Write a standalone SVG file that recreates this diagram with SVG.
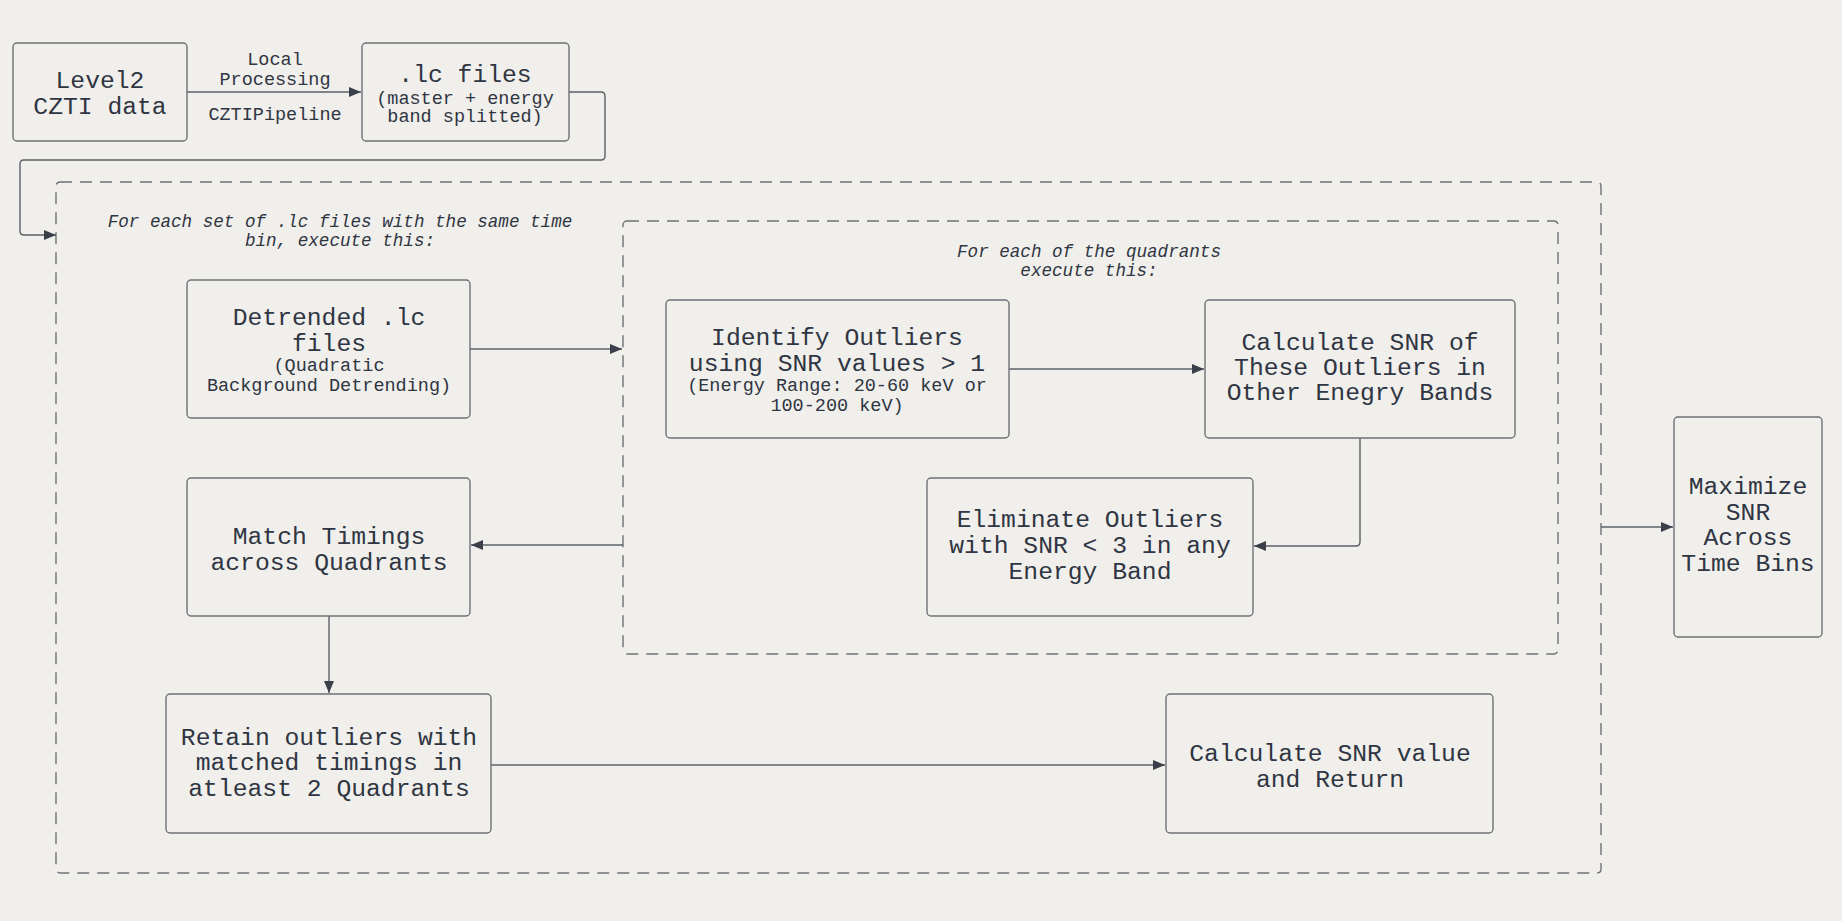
<svg xmlns="http://www.w3.org/2000/svg" width="1842" height="921" viewBox="0 0 1842 921">
<defs>
<marker id="ah" viewBox="0 0 12 12" refX="12" refY="6" markerWidth="12" markerHeight="12" markerUnits="userSpaceOnUse" orient="auto">
<path d="M0,1 L12,6 L0,11 Z" fill="#3a3f4a"/>
</marker>
<style>
.bg{fill:#f0efeb}
.box{fill:#f0efeb;stroke:#6e7178;stroke-width:1.4}
.grp{fill:none;stroke:#6e7178;stroke-width:1.4;stroke-dasharray:12 8}
.edge{fill:none;stroke:#5d6068;stroke-width:1.4;marker-end:url(#ah)}
text{font-family:"Liberation Mono","DejaVu Sans Mono",monospace;fill:#2f3542;text-anchor:middle}
.t{font-size:24.7px}
.s{font-size:18.5px}
.i{font-size:17.6px;font-style:italic}
</style>
</defs>
<rect class="bg" x="0" y="0" width="1842" height="921"/>

<g id="group-outer">
<rect class="grp" x="56" y="182" width="1545" height="691" rx="4"/>
<text class="i" x="340" y="227">For each set of .lc files with the same time</text>
<text class="i" x="340" y="246">bin, execute this:</text>
</g>
<g id="group-inner">
<rect class="grp" x="623" y="221" width="935" height="433" rx="4"/>
<text class="i" x="1089" y="257">For each of the quadrants</text>
<text class="i" x="1089" y="276">execute this:</text>
</g>

<g id="connectors">
<path class="edge" d="M187,92 L361,92"/>
<path class="edge" d="M569,92 L601,92 Q605,92 605,96 L605,156 Q605,160 601,160 L24,160 Q20,160 20,164 L20,231 Q20,235 24,235 L56,235"/>
<path class="edge" d="M470,349 L622,349"/>
<path class="edge" d="M1009,369 L1204,369"/>
<path class="edge" d="M1360,438 L1360,542 Q1360,546 1356,546 L1254,546"/>
<path class="edge" d="M623,545 L471,545"/>
<path class="edge" d="M329,616 L329,693"/>
<path class="edge" d="M491,765 L1165,765"/>
<path class="edge" d="M1601,527 L1673,527"/>
<text class="s" x="275" y="65">Local</text>
<text class="s" x="275" y="85">Processing</text>
<text class="s" x="275" y="120">CZTIPipeline</text>
</g>

<g id="node-level2">
<rect class="box" x="13" y="43" width="174" height="98" rx="4"/>
<text class="t" x="100" y="88">Level2</text>
<text class="t" x="100" y="114">CZTI data</text>
</g>
<g id="node-lcfiles">
<rect class="box" x="362" y="43" width="207" height="98" rx="4"/>
<text class="t" x="465" y="82">.lc files</text>
<text class="s" x="465" y="103.5">(master + energy</text>
<text class="s" x="465" y="122">band splitted)</text>
</g>
<g id="node-detrended">
<rect class="box" x="187" y="280" width="283" height="138" rx="4"/>
<text class="t" x="329" y="325">Detrended .lc</text>
<text class="t" x="329" y="351">files</text>
<text class="s" x="329" y="371">(Quadratic</text>
<text class="s" x="329" y="391">Background Detrending)</text>
</g>
<g id="node-identify">
<rect class="box" x="666" y="300" width="343" height="138" rx="4"/>
<text class="t" x="837" y="345">Identify Outliers</text>
<text class="t" x="837" y="371">using SNR values &gt; 1</text>
<text class="s" x="837" y="391">(Energy Range: 20-60 keV or</text>
<text class="s" x="837" y="411">100-200 keV)</text>
</g>
<g id="node-calcsnr">
<rect class="box" x="1205" y="300" width="310" height="138" rx="4"/>
<text class="t" x="1360" y="350">Calculate SNR of</text>
<text class="t" x="1360" y="375">These Outliers in</text>
<text class="t" x="1360" y="400">Other Enegry Bands</text>
</g>
<g id="node-eliminate">
<rect class="box" x="927" y="478" width="326" height="138" rx="4"/>
<text class="t" x="1090" y="527">Eliminate Outliers</text>
<text class="t" x="1090" y="553">with SNR &lt; 3 in any</text>
<text class="t" x="1090" y="579">Energy Band</text>
</g>
<g id="node-match">
<rect class="box" x="187" y="478" width="283" height="138" rx="4"/>
<text class="t" x="329" y="543.5">Match Timings</text>
<text class="t" x="329" y="569.5">across Quadrants</text>
</g>
<g id="node-retain">
<rect class="box" x="166" y="694" width="325" height="139" rx="4"/>
<text class="t" x="329" y="744.5">Retain outliers with</text>
<text class="t" x="329" y="770">matched timings in</text>
<text class="t" x="329" y="796">atleast 2 Quadrants</text>
</g>
<g id="node-calcvalue">
<rect class="box" x="1166" y="694" width="327" height="139" rx="4"/>
<text class="t" x="1330" y="761">Calculate SNR value</text>
<text class="t" x="1330" y="787">and Return</text>
</g>
<g id="node-maximize">
<rect class="box" x="1674" y="417" width="148" height="220" rx="4"/>
<text class="t" x="1748" y="494">Maximize</text>
<text class="t" x="1748" y="520">SNR</text>
<text class="t" x="1748" y="545">Across</text>
<text class="t" x="1748" y="571">Time Bins</text>
</g>
</svg>
